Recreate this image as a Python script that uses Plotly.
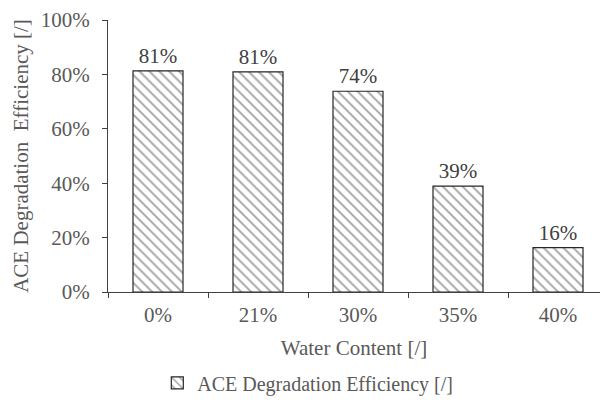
import plotly.graph_objects as go

categories = ["0%", "21%", "30%", "35%", "40%"]
efficiency = [0.813, 0.809, 0.738, 0.389, 0.163]
labels = ["81%", "81%", "74%", "39%", "16%"]

font_family = "Liberation Serif, Times New Roman, serif"
txt_color = "#595959"

fig = go.Figure()
fig.add_trace(go.Bar(
    x=categories,
    y=efficiency,
    width=0.5,
    name="ACE Degradation Efficiency [/]",
    text=labels,
    textposition="outside",
    cliponaxis=False,
    textfont=dict(family=font_family, size=21, color="#404040"),
    marker=dict(
        color="white",
        line=dict(color="#262626", width=1.2),
        pattern=dict(shape="\\", fgcolor="#404040", bgcolor="white", size=7, solidity=0.25),
    ),
))

fig.update_layout(
    width=600, height=406,
    margin=dict(l=108, r=0, t=20, b=114),
    paper_bgcolor="white",
    plot_bgcolor="white",
    font=dict(family=font_family, size=21, color=txt_color),
    showlegend=True,
    legend=dict(
        orientation="h", x=0.513, xanchor="center", xref="container",
        y=0.057, yanchor="middle", yref="container",
        font=dict(family=font_family, size=20, color=txt_color),
        itemwidth=30,
    ),
    xaxis=dict(
        range=[-0.5, 4.42],
        showline=True, linecolor="#404040", linewidth=1.2,
        ticks="outside", tickson="boundaries", ticklen=5, tickcolor="#404040",
        ticklabelstandoff=4,
        showgrid=False,
        tickfont=dict(family=font_family, size=21, color=txt_color),
        title=dict(text="Water Content [/]", font=dict(family=font_family, size=21, color=txt_color), standoff=14),
    ),
    yaxis=dict(
        range=[0, 1], dtick=0.2, tickformat=".0%",
        showline=True, linecolor="#404040", linewidth=1.2,
        ticks="outside", ticklen=5, tickcolor="#404040",
        ticklabelstandoff=8,
        showgrid=False, zeroline=False,
        tickfont=dict(family=font_family, size=21, color=txt_color),
        title=dict(text="ACE Degradation  Efficiency [/]", font=dict(family=font_family, size=21, color=txt_color), standoff=6),
    ),
)

fig.write_html("out.html")
